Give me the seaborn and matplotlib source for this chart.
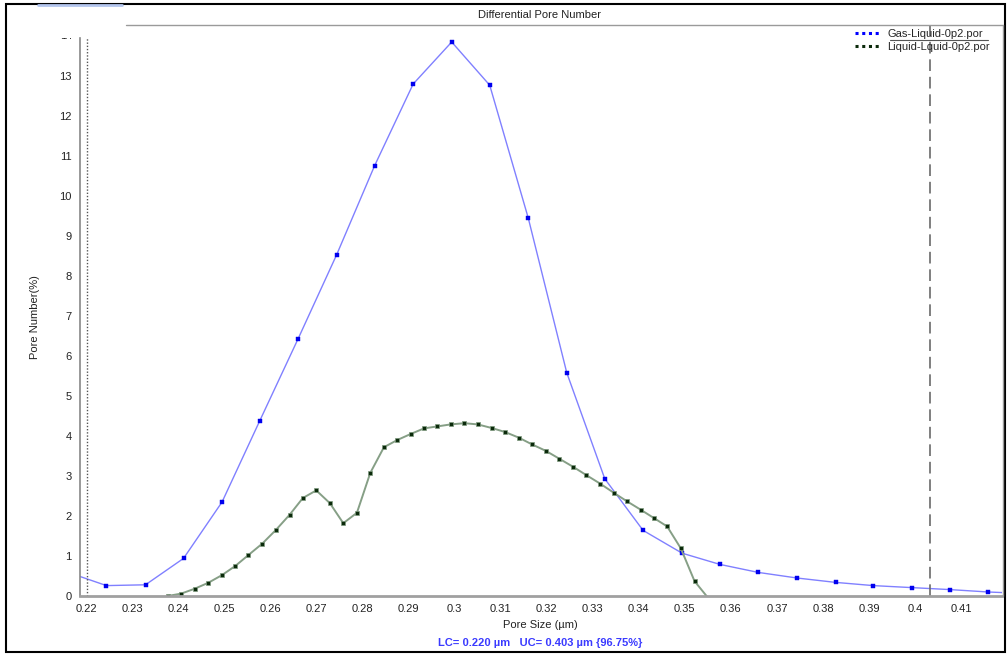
import matplotlib
matplotlib.use("Agg")
import matplotlib.pyplot as plt
from matplotlib.lines import Line2D
from matplotlib.patches import Rectangle
from matplotlib.transforms import Bbox, TransformedBbox
import seaborn as sns
import pandas as pd

# Gas-liquid displacement run
gas_size = [0.21602, 0.22435, 0.23283, 0.24109, 0.24946, 0.25761, 0.26598,
            0.27435, 0.28261, 0.29098, 0.29935, 0.30761, 0.31598, 0.32435,
            0.33261, 0.34093, 0.34941, 0.35761, 0.36593, 0.37435, 0.38276,
            0.39093, 0.39928, 0.40761, 0.41593, 0.42435]
gas_number = [0.59, 0.26, 0.28, 0.94, 2.35, 4.37, 6.43,
              8.53, 10.76, 12.80, 13.85, 12.77, 9.45, 5.58,
              2.93, 1.64, 1.07, 0.79, 0.59, 0.45, 0.34,
              0.26, 0.21, 0.16, 0.10, 0.06]

# Liquid-liquid displacement run
liq_size = [0.23765, 0.24059, 0.24348, 0.24646, 0.24941, 0.25233, 0.25515,
            0.25820, 0.26115, 0.26413, 0.26702, 0.26993, 0.27289, 0.27580,
            0.27876, 0.28167, 0.28463, 0.28754, 0.29043, 0.29333, 0.29624,
            0.29913, 0.30211, 0.30500, 0.30804, 0.31093, 0.31391, 0.31680,
            0.31978, 0.32276, 0.32572, 0.32863, 0.33159, 0.33457, 0.33739,
            0.34037, 0.34326, 0.34615, 0.34913, 0.35211, 0.35507]
liq_number = [0.00, 0.06, 0.18, 0.33, 0.52, 0.75, 1.02,
              1.31, 1.65, 2.03, 2.45, 2.64, 2.32, 1.82,
              2.08, 3.08, 3.72, 3.90, 4.05, 4.19, 4.24,
              4.29, 4.32, 4.29, 4.20, 4.10, 3.96, 3.79,
              3.63, 3.43, 3.23, 3.02, 2.81, 2.58, 2.37,
              2.16, 1.95, 1.74, 1.19, 0.37, -0.05]

series_labels = ["Gas-Liquid-0p2.por", "Liquid-Lquid-0p2.por"]
x_ticks = [0.22, 0.23, 0.24, 0.25, 0.26, 0.27, 0.28, 0.29, 0.30, 0.31,
           0.32, 0.33, 0.34, 0.35, 0.36, 0.37, 0.38, 0.39, 0.40, 0.41]
x_tick_labels = ["0.22", "0.23", "0.24", "0.25", "0.26", "0.27", "0.28",
                 "0.29", "0.3", "0.31", "0.32", "0.33", "0.34", "0.35",
                 "0.36", "0.37", "0.38", "0.39", "0.4", "0.41"]
y_ticks = list(range(0, 14))
lower_cut = 0.2202
upper_cut = 0.4033

sns.set_style("white")
plt.rcParams["font.family"] = ["Liberation Sans", "DejaVu Sans"]

W, H = 1007, 656
fig = plt.figure(figsize=(W / 100, H / 100), dpi=100)
fig.patch.set_facecolor("white")


def fx(px):
    return px / W


def fy(py):
    return 1 - py / H


ax = fig.add_axes([fx(80), fy(596), fx(1002) - fx(80), fy(38) - fy(596)])

gas = pd.DataFrame({"size": gas_size, "number": gas_number})
liq = pd.DataFrame({"size": liq_size, "number": liq_number})

sns.lineplot(data=gas, x="size", y="number", ax=ax, sort=False,
             color="#8080ff", lw=1.0, marker="s", markersize=2.6,
             markerfacecolor="#0000ee", markeredgecolor="#0000ee",
             markeredgewidth=0.3, legend=False)
sns.lineplot(data=liq, x="size", y="number", ax=ax, sort=False,
             color="#869f86", lw=1.4, marker="s", markersize=3.1,
             markerfacecolor="#0b2a0b", markeredgecolor="#7f9a7f",
             markeredgewidth=0.5, legend=False)

ax.set_xlim(0.2186, 0.4189)
ax.set_ylim(0, 13.95)

# cut-off markers
ax.axvline(lower_cut, color="#555555", lw=1.0, ls=(0, (1, 1.3)))
ax.axvline(upper_cut, ymax=1 + 13 / 558, clip_on=False, color="#6a6a6a",
           lw=1.2, ls=(0, (7, 3.5)))

ax.set_xticks(x_ticks)
ax.set_xticklabels(x_tick_labels)
ax.set_yticks(y_ticks)
ax.set_yticklabels([str(t) for t in y_ticks])
ax.set_xlabel("")
ax.set_ylabel("")
ax.tick_params(axis="both", direction="out", length=4, width=1,
               color="#888888", labelsize=8, labelcolor="#222222", pad=2)
ax.grid(False)

for side in ("top", "right"):
    ax.spines[side].set_visible(False)
ax.spines["left"].set_color("#888888")
ax.spines["left"].set_linewidth(1.2)
ax.spines["bottom"].set_color("#a0a0a0")
ax.spines["bottom"].set_linewidth(2.0)

# partially hidden "14" above the axis top
t14 = fig.text(fx(72), fy(36), "14", ha="right", va="center", fontsize=8,
               color="#222222")
t14.set_clip_box(TransformedBbox(Bbox([[0, 0], [1, fy(37.5)]]), fig.transFigure))
t14.set_clip_on(True)

# plot frame (top and right)
fig.add_artist(Line2D([fx(126), fx(1003)], [fy(25), fy(25)],
                      transform=fig.transFigure, color="#9a9a9a", lw=1.0))
fig.add_artist(Line2D([fx(1003), fx(1003)], [fy(25), fy(596)],
                      transform=fig.transFigure, color="#9a9a9a", lw=1.0))

# outer border
fig.add_artist(Rectangle((fx(6), fy(652)), fx(1005) - fx(6), fy(4) - fy(652),
                         transform=fig.transFigure, fill=False,
                         ec="black", lw=1.5))
fig.add_artist(Line2D([fx(38), fx(122)], [fy(5), fy(5)],
                      transform=fig.transFigure, color="#b4c6ee", lw=2.0))

fig.text(fx(540), fy(15), "Differential Pore Number", ha="center",
         va="center", fontsize=8, color="#222222")
fig.text(fx(540), fy(625), "Pore Size (\u00b5m)", ha="center", va="center",
         fontsize=8, color="#222222")
fig.text(fx(35), fy(317), "Pore Number(%)", ha="center", va="center",
         rotation=90, fontsize=8, color="#222222")
fig.text(fx(540), fy(643),
         "LC= 0.220 \u00b5m   UC= 0.403 \u00b5m {96.75%}",
         ha="center", va="center", fontsize=8, color="#3a3aff",
         fontweight="bold")

handles = [
    Line2D([], [], color="#0000ff", lw=2.2, ls=(0, (1, 1.2))),
    Line2D([], [], color="#0b2a0b", lw=2.2, ls=(0, (1, 1.2))),
]
fig.legend(handles, series_labels, loc="upper left",
           bbox_to_anchor=(fx(855), fy(29)), frameon=False, fontsize=8,
           handlelength=2.2, handletextpad=0.7, labelspacing=0.25,
           borderpad=0, borderaxespad=0)
fig.add_artist(Line2D([fx(890), fx(988)], [fy(40), fy(40)],
                      transform=fig.transFigure, color="#555555", lw=0.8))

fig.savefig("out.png", dpi=100, facecolor="white")
